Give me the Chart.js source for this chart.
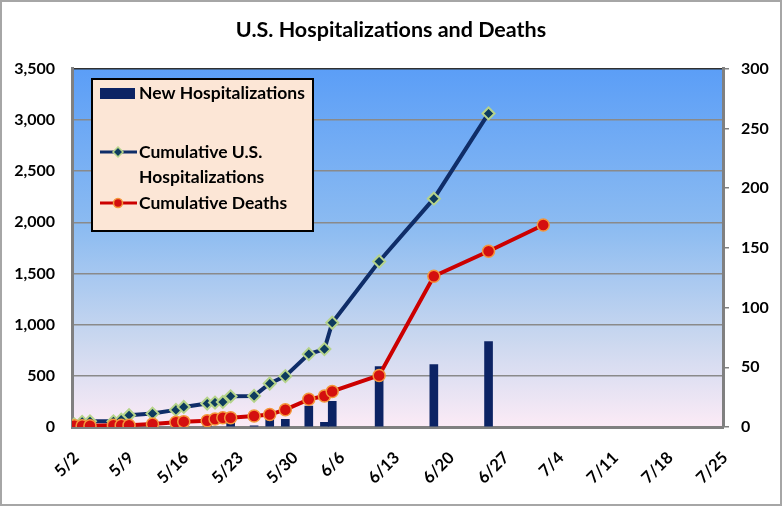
<!DOCTYPE html>
<html>
<head>
<meta charset="utf-8">
<script src="https://cdn.jsdelivr.net/npm/chart.js@4"></script>
<style>
  html, body { margin: 0; padding: 0; background: #fff; }
  #wrap { width: 782px; height: 506px; }
</style>
</head>
<body>
<div id="wrap"><canvas id="chart" width="782" height="506"></canvas></div>
<script>
// values
const cumDates = ['5/2', '5/3', '5/4', '5/7', '5/8', '5/9', '5/12', '5/15', '5/16', '5/19', '5/20',
  '5/21', '5/22', '5/25', '5/27', '5/29', '6/2', '6/4', '6/5', '6/11', '6/18', '6/25'];
const cumHospitalizations = [25, 50, 55, 55, 72, 115, 131, 167, 196, 229, 239,
  245, 300, 304, 425, 497, 712, 761, 1019, 1617, 2231, 3064];

const deathDates = [...cumDates, '7/2'];
const cumDeaths = [1, 1, 1, 1.5, 1.5, 1.5, 2.5, 4, 4.5, 5.3, 6.7,
  7.8, 7.8, 9.2, 10.4, 14.5, 23.2, 25.9, 29.8, 43.2, 126.3, 147.2, 169.2];

const newDates = ['5/19', '5/22', '5/25', '5/27', '5/29', '6/2', '6/4', '6/5', '6/11', '6/18', '6/25'];
const newHospitalizations = [33, 50, 12, 115, 75, 205, 45, 252, 590, 610, 835];

const xTickDates = ['5/2', '5/9', '5/16', '5/23', '5/30', '6/6', '6/13', '6/20', '6/27', '7/4', '7/11', '7/18', '7/25'];
const leftTicks = [0, 500, 1000, 1500, 2000, 2500, 3000, 3500];
const rightTicks = [0, 50, 100, 150, 200, 250, 300];

const FONT = 'Lato, "Open Sans", sans-serif';
const monthStart = { 5: 0, 6: 30, 7: 60 }; // days from 5/1

function dayOf(label) {
  const [m, d] = label.split('/').map(Number);
  return monthStart[m] + d - 2; // 5/2 -> 0
}
function labelOf(day) {
  for (const m of [7, 6, 5]) {
    const d = day + 2 - monthStart[m];
    if (d >= 1) return m + '/' + d;
  }
  return '';
}
const toPoints = (dates, vals) => dates.map((d, i) => ({ x: dayOf(d), y: vals[i] }));

const backdrop = {
  id: 'backdrop',
  beforeDraw(chart) {
    const { ctx, chartArea: a } = chart;
    ctx.save();
    ctx.fillStyle = '#fff';
    ctx.fillRect(0, 0, chart.width, chart.height);
    const g = ctx.createLinearGradient(0, a.top, 0, a.bottom);
    g.addColorStop(0, '#5b9ef7');
    g.addColorStop(0.45, '#8dbcf1');
    g.addColorStop(0.75, '#c9d7ef');
    g.addColorStop(1, '#fcebf6');
    ctx.fillStyle = g;
    ctx.fillRect(a.left, a.top, a.right - a.left, a.bottom - a.top);
    ctx.strokeStyle = '#a6a6a6';
    ctx.lineWidth = 2;
    ctx.strokeRect(1, 1, chart.width - 2, chart.height - 2);
    ctx.restore();
  }
};

const boxLegend = {
  id: 'boxLegend',
  afterDraw(chart) {
    const ctx = chart.ctx;
    ctx.save();
    ctx.fillStyle = '#fce6d6';
    ctx.fillRect(92, 79, 221, 152);
    ctx.strokeStyle = '#000';
    ctx.lineWidth = 2;
    ctx.strokeRect(92, 79, 221, 152);

    ctx.font = 'bold 17.5px ' + FONT;
    ctx.fillStyle = '#000';
    ctx.textBaseline = 'middle';
    ctx.fillText('New Hospitalizations', 139, 93);
    ctx.fillText('Cumulative U.S.', 139, 152);
    ctx.fillText('Hospitalizations', 139, 177);
    ctx.fillText('Cumulative Deaths', 139, 203);

    ctx.fillStyle = '#0c2364';
    ctx.fillRect(100, 88, 35, 11);

    ctx.lineWidth = 3;
    ctx.strokeStyle = '#0f2d68';
    ctx.beginPath(); ctx.moveTo(100, 152); ctx.lineTo(137, 152); ctx.stroke();
    ctx.fillStyle = '#0d3b5e';
    ctx.strokeStyle = '#b5d38a';
    ctx.lineWidth = 1.5;
    ctx.beginPath();
    ctx.moveTo(118, 147); ctx.lineTo(123, 152); ctx.lineTo(118, 157); ctx.lineTo(113, 152);
    ctx.closePath(); ctx.fill(); ctx.stroke();

    ctx.lineWidth = 3;
    ctx.strokeStyle = '#cc0000';
    ctx.beginPath(); ctx.moveTo(100, 203); ctx.lineTo(137, 203); ctx.stroke();
    ctx.fillStyle = '#d40f0f';
    ctx.strokeStyle = '#f4973c';
    ctx.lineWidth = 1.5;
    ctx.beginPath(); ctx.arc(118, 203, 4.5, 0, Math.PI * 2); ctx.fill(); ctx.stroke();
    ctx.restore();
  }
};

new Chart(document.getElementById('chart'), {
  data: {
    datasets: [
      {
        type: 'line',
        label: 'Cumulative Deaths',
        data: toPoints(deathDates, cumDeaths),
        yAxisID: 'y1',
        borderColor: '#cc0000',
        borderWidth: 4,
        pointStyle: 'circle',
        pointRadius: 6,
        pointBackgroundColor: '#d40f0f',
        pointBorderColor: '#f4973c',
        pointBorderWidth: 1.5,
        order: 0
      },
      {
        type: 'line',
        label: 'Cumulative U.S. Hospitalizations',
        data: toPoints(cumDates, cumHospitalizations),
        yAxisID: 'y',
        borderColor: '#0f2d68',
        borderWidth: 4,
        pointStyle: 'rectRot',
        pointRadius: 6,
        pointBackgroundColor: '#0d3b5e',
        pointBorderColor: '#b5d38a',
        pointBorderWidth: 2,
        order: 1
      },
      {
        type: 'bar',
        label: 'New Hospitalizations',
        data: toPoints(newDates, newHospitalizations),
        yAxisID: 'y',
        backgroundColor: '#0c2364',
        barThickness: 8,
        order: 2
      }
    ]
  },
  options: {
    responsive: false,
    animation: false,
    devicePixelRatio: 1,
    layout: { padding: 0 },
    plugins: {
      legend: { display: false },
      tooltip: { enabled: false },
      title: {
        display: true,
        text: 'U.S. Hospitalizations and Deaths',
        color: '#000',
        font: { family: FONT, size: 21.5, weight: 'bold' },
        padding: { top: 17, bottom: 26 }
      }
    },
    scales: {
      x: {
        type: 'linear',
        offset: false,
        min: dayOf(xTickDates[0]) - 0.3,
        max: dayOf(xTickDates[xTickDates.length - 1]),
        afterBuildTicks: (s) => { s.ticks = xTickDates.map(d => ({ value: dayOf(d) })); },
        afterFit: (s) => { s.height = 79; },
        grid: { display: false },
        border: { display: true, color: '#808080', width: 3 },
        ticks: {
          autoSkip: false,
          minRotation: 45,
          maxRotation: 45,
          padding: 13,
          labelOffset: 2,
          color: '#000',
          font: { family: FONT, size: 16.5, weight: 'bold' },
          callback: (v) => labelOf(v)
        }
      },
      y: {
        position: 'left',
        min: 0,
        max: leftTicks[leftTicks.length - 1],
        afterBuildTicks: (s) => { s.ticks = leftTicks.map(v => ({ value: v })); },
        afterFit: (s) => { s.width = 72; },
        grid: {
          drawTicks: false,
          lineWidth: 1.5,
          color: (c) => (c.tick && c.tick.value === 3500 ? '#303030' : '#8a8a8a')
        },
        border: { display: true, color: '#808080', width: 3 },
        ticks: {
          padding: 17,
          color: '#000',
          font: { family: FONT, size: 16, weight: 'bold' },
          callback: (v) => v.toLocaleString('en-US')
        }
      },
      y1: {
        position: 'right',
        min: 0,
        max: rightTicks[rightTicks.length - 1],
        afterBuildTicks: (s) => { s.ticks = rightTicks.map(v => ({ value: v })); },
        afterFit: (s) => { s.width = 59; },
        grid: { drawOnChartArea: false, drawTicks: true, tickLength: 6, color: '#808080', lineWidth: 1.5 },
        border: { display: true, color: '#808080', width: 3 },
        ticks: {
          padding: 12,
          color: '#000',
          font: { family: FONT, size: 16, weight: 'bold' }
        }
      }
    }
  },
  plugins: [backdrop, boxLegend]
});
</script>
</body>
</html>
